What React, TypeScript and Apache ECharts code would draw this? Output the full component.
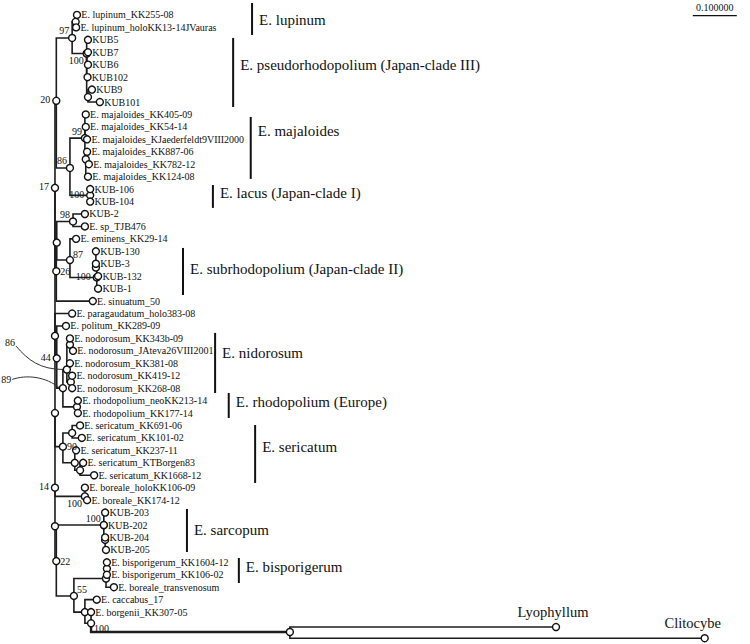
import React, { useEffect, useRef } from 'react';
import * as echarts from 'echarts';

// ---------- DATA ----------
const leafNames = [
  'E. lupinum_KK255-08', 'E. lupinum_holoKK13-14JVauras', 'KUB5', 'KUB7', 'KUB6', 'KUB102', 'KUB9', 'KUB101',
  'E. majaloides_KK405-09', 'E. majaloides_KK54-14', 'E. majaloides_KJaederfeldt9VIII2000', 'E. majaloides_KK887-06',
  'E. majaloides_KK782-12', 'E. majaloides_KK124-08', 'KUB-106', 'KUB-104', 'KUB-2', 'E. sp_TJB476',
  'E. eminens_KK29-14', 'KUB-130', 'KUB-3', 'KUB-132', 'KUB-1', 'E. sinuatum_50', 'E. paragaudatum_holo383-08',
  'E. politum_KK289-09', 'E. nodorosum_KK343b-09', 'E. nodorosum_JAteva26VIII2001', 'E. nodorosum_KK381-08',
  'E. nodorosum_KK419-12', 'E. nodorosum_KK268-08', 'E. rhodopolium_neoKK213-14', 'E. rhodopolium_KK177-14',
  'E. sericatum_KK691-06', 'E. sericatum_KK101-02', 'E. sericatum_KK237-11', 'E. sericatum_KTBorgen83',
  'E. sericatum_KK1668-12', 'E. boreale_holoKK106-09', 'E. boreale_KK174-12', 'KUB-203', 'KUB-202', 'KUB-204',
  'KUB-205', 'E. bisporigerum_KK1604-12', 'E. bisporigerum_KK106-02', 'E. boreale_transvenosum', 'E. caccabus_17',
  'E. borgenii_KK307-05', 'Lyophyllum', 'Clitocybe',
];
const leafDist = [
  0.050, 0.048, 0.075, 0.075, 0.075, 0.074, 0.084, 0.102, 0.070, 0.070, 0.073, 0.073, 0.077, 0.075, 0.080, 0.080,
  0.068, 0.068, 0.048, 0.093, 0.093, 0.098, 0.098, 0.086, 0.039, 0.025, 0.034, 0.041, 0.034, 0.039, 0.039, 0.052,
  0.052, 0.057, 0.061, 0.048, 0.064, 0.089, 0.068, 0.073, 0.114, 0.111, 0.114, 0.116, 0.118, 0.118, 0.134, 0.095,
  0.082, 1.139, 1.477,
];
const leafRow = [
  0, 1, 2, 3, 4, 5, 6, 7, 8, 9, 10, 11, 12, 13, 14, 15, 16, 17, 18, 19, 20, 21, 22, 23, 24, 25, 26, 27, 28, 29, 30,
  31, 32, 33, 34, 35, 36, 37, 38, 39, 40, 41, 42, 43, 44, 45, 46, 47, 48, 49.2, 50.1,
];
const leafParent = [
  'nLup', 'nLup', 'nK100', 'nK100', 'nK100', 'nK100', 'nK2', 'nK2', 'N99', 'N99', 'N99', 'nM2', 'nM2', 'nM2',
  'nLac', 'nLac', 'N98', 'N98', 'N87', 'nS2', 'nS2', 'nS100', 'nS100', 'N26', 'B336', 'N44', 'nN1', 'nN1', 'N86b',
  'nN3', 'nN3', 'nRh', 'nRh', 'nSe1', 'nSe1', 'nSe2', 'nSe3', 'nSe3', 'nBor', 'nBor', 'nSar', 'nSar', 'nSa2', 'nSa2',
  'nBi2', 'nBi2', 'nBi', 'nCa', 'N100o', 'nOut', 'nOut',
];

const nodeIds = [
  'R17', 'N20', 'N97', 'nLup', 'nK100', 'nK2', 'N86a', 'N99', 'nM2', 'nLac', 'N26', 'Na', 'N98', 'N87', 'nS100',
  'nS2', 'B336', 'N44', 'N89', 'N86b', 'nN1', 'nN3', 'nRh', 'B413', 'N90', 'nSe1', 'nSe2', 'nSe3', 'N14', 'nBor',
  'N22', 'B527', 'nSar', 'nSa2', 'N55', 'nBi', 'nBi2', 'nCa', 'N100o', 'nOut',
];
const nodeParent = [
  '', 'R17', 'N20', 'N97', 'N97', 'nK100', 'N20', 'N86a', 'N99', 'N86a', 'R17', 'N26', 'Na', 'Na', 'N87',
  'nS100', 'R17', 'B336', 'N44', 'N89', 'N86b', 'N86b', 'N89', 'B336', 'B413', 'N90', 'N90', 'nSe2', 'B413', 'N14',
  'N14', 'N22', 'B527', 'nSar', 'N22', 'N55', 'nBi', 'N55', 'nCa', 'N100o',
];
const nodeDist = [
  0.000, 0.003, 0.039, 0.047, 0.072, 0.075, 0.034, 0.068, 0.070, 0.080, 0.003, 0.004, 0.041, 0.034, 0.095,
  0.093, 0.000, 0.004, 0.018, 0.027, 0.034, 0.036, 0.050, 0.000, 0.018, 0.039, 0.045, 0.057, 0.000, 0.068,
  0.003, 0.000, 0.111, 0.114, 0.043, 0.116, 0.118, 0.068, 0.082, 0.534,
];
const nodeRow = [
  13.9, 6.9, 1.85, 0.55, 3.1, 6.6, 12.3, 9.9, 11.6, 14.5, 20.6, 18.3, 16.6, 19.7, 21.1,
  20.3, 25.8, 27.6, 30.0, 28.5, 26.5, 29.5, 31.5, 32.0, 34.7, 33.6, 36.0, 36.6, 38.0, 38.7,
  43.9, 41.1, 41.0, 42.2, 46.7, 45.3, 44.5, 48.0, 48.9, 49.6,
];
const nodeSupport = [
  '17', '20', '97', '', '100', '', '86', '99', '', '100', '26', '', '98', '87', '100',
  '', '', '44', '89', '86', '', '', '', '', '90', '', '', '', '14', '100',
  '22', '', '100', '', '55', '', '', '', '100', '',
];

const cladeNames = [
  'E. lupinum', 'E. pseudorhodopolium (Japan-clade III)', 'E. majaloides', 'E. lacus (Japan-clade I)',
  'E. subrhodopolium (Japan-clade II)', 'E. nidorosum', 'E. rhodopolium (Europe)', 'E. sericatum', 'E. sarcopum',
  'E. bisporigerum',
];
const cladeBarX = [0.448, 0.405, 0.445, 0.359, 0.291, 0.364, 0.395, 0.455, 0.300, 0.418];
const cladeTop = [-0.96, 1.85, 8.2, 13.67, 18.73, 25.56, 30.39, 32.96, 39.71, 43.65];
const cladeBottom = [1.61, 7.4, 13.18, 15.51, 22.51, 30.39, 32.4, 37.62, 43.17, 45.66];
const cladeTextRow = [0.4, 4.02, 9.32, 14.31, 20.42, 27.17, 31.11, 34.73, 41.4, 44.37];

// support values whose labels sit away from the node, with a leader curve
const leaderNodes = ['N86b', 'N89'];
const leaderX = [-0.102, -0.111];
const leaderRow = [26.3, 29.3];

const scaleBarStart = 1.45;
const scaleBarLength = 0.1;
const scaleBarRow = 0.05;
const scaleBarLabel = '0.100000';

// ---------- STYLE ----------
const FONT = 'Liberation Serif';
const INK = '#111';
const supportPlacement: Record<string, string> = {
  R17: 'l', N20: 'l', N97: 'tl', nK100: 'bl', N86a: 'tl', N99: 'tl', nLac: 'l', N26: 'r', N98: 'tl', N87: 'tr',
  nS100: 'l', N44: 'l', N90: 'r', N14: 'l', nBor: 'bl', N22: 'r', nSar: 'tl', N55: 'tr', N100o: 'br',
};

function positions() {
  const pos: Record<string, [number, number]> = {};
  leafNames.forEach((_, i) => (pos['L' + i] = [leafDist[i], leafRow[i]]));
  nodeIds.forEach((id, i) => (pos[id] = [nodeDist[i], nodeRow[i]]));
  return pos;
}

const txt = (text: string, x: number, y: number, size: number, align: string, valign: string) => ({
  type: 'text',
  x,
  y,
  style: {
    text, fontSize: size, fontFamily: FONT, fill: INK,
    align, verticalAlign: valign, textAlign: align, textVerticalAlign: valign,
  },
});

function buildOption() {
  const pos = positions();
  const edges: number[][] = [];
  leafNames.forEach((_, i) => {
    const p = pos[leafParent[i]];
    edges.push([p[0], p[1], leafDist[i], leafRow[i], 1.6]);
  });
  nodeIds.forEach((id, i) => {
    if (!nodeParent[i]) return;
    const p = pos[nodeParent[i]];
    edges.push([p[0], p[1], nodeDist[i], nodeRow[i], id === 'nOut' ? 2.4 : 1.6]);
  });

  const circleData: number[][] = [];
  nodeIds.forEach((_, i) => circleData.push([nodeDist[i], nodeRow[i]]));
  leafNames.forEach((_, i) => circleData.push([leafDist[i], leafRow[i]]));

  const leafLabelData = leafNames.map((_, i) => [leafDist[i], leafRow[i], i]);

  const supportData: number[][] = [];
  nodeIds.forEach((id, i) => {
    if (nodeSupport[i] && supportPlacement[id]) supportData.push([nodeDist[i], nodeRow[i], i]);
  });

  const leaderData = leaderNodes.map((id, k) => [leaderX[k], leaderRow[k], pos[id][0], pos[id][1], nodeIds.indexOf(id), k]);

  const cladeData = cladeNames.map((_, i) => [cladeBarX[i], cladeTop[i], cladeBottom[i], cladeTextRow[i], i]);

  return {
    animation: false,
    backgroundColor: '#fff',
    textStyle: { fontFamily: FONT },
    grid: { left: 0, top: 2.5, width: 750, height: 640.7 },
    xAxis: { type: 'value', min: -0.125, max: 1.58, show: false },
    yAxis: { type: 'value', min: -1, max: 50.5, inverse: true, show: false },
    series: [
      {
        type: 'custom',
        z: 2,
        data: edges,
        renderItem: (_p: any, api: any) => {
          const a = api.coord([api.value(0), api.value(1)]);
          const c = api.coord([api.value(2), api.value(3)]);
          return {
            type: 'polyline',
            shape: { points: [a, [a[0], c[1]], c] },
            style: { stroke: '#1c1c1c', lineWidth: api.value(4), fill: null },
          };
        },
      },
      {
        type: 'custom',
        z: 2,
        data: cladeData,
        renderItem: (_p: any, api: any) => {
          const t = api.coord([api.value(0), api.value(1)]);
          const b = api.coord([api.value(0), api.value(2)]);
          const m = api.coord([api.value(0), api.value(3)]);
          return {
            type: 'group',
            children: [
              { type: 'line', shape: { x1: t[0], y1: t[1], x2: b[0], y2: b[1] }, style: { stroke: INK, lineWidth: 2 } },
              txt(cladeNames[api.value(4)], t[0] + 7, m[1], 15, 'left', 'middle'),
            ],
          };
        },
      },
      {
        type: 'custom',
        z: 2,
        data: [[scaleBarStart, scaleBarStart + scaleBarLength, scaleBarRow]],
        renderItem: (_p: any, api: any) => {
          const a = api.coord([api.value(0), api.value(2)]);
          const b = api.coord([api.value(1), api.value(2)]);
          return {
            type: 'group',
            children: [
              { type: 'line', shape: { x1: a[0], y1: a[1], x2: b[0], y2: b[1] }, style: { stroke: INK, lineWidth: 1.2 } },
              txt(scaleBarLabel, (a[0] + b[0]) / 2, a[1] - 3, 10, 'center', 'bottom'),
            ],
          };
        },
      },
      {
        type: 'custom',
        z: 2,
        data: leaderData,
        renderItem: (_p: any, api: any) => {
          const s = api.coord([api.value(0), api.value(1)]);
          const e = api.coord([api.value(2), api.value(3)]);
          const k = api.value(5);
          const sx = s[0] + 6, sy = s[1] + (k === 0 ? 4 : 0);
          const ex = e[0] - 3, ey = e[1];
          const dx = ex - sx, dy = ey - sy;
          const shape = k === 0
            ? { x1: sx, y1: sy, cpx1: sx + 0.25 * dx, cpy1: sy + 0.6 * dy, cpx2: sx + 0.5 * dx, cpy2: ey, x2: ex, y2: ey }
            : { x1: sx, y1: sy, cpx1: sx + 0.3 * dx, cpy1: sy - 5, cpx2: sx + 0.7 * dx, cpy2: sy - 3, x2: ex, y2: ey };
          return {
            type: 'group',
            children: [
              { type: 'bezierCurve', shape, style: { stroke: '#333', lineWidth: 1, fill: null } },
              txt(nodeSupport[api.value(4)], s[0], s[1], 10, 'center', 'middle'),
            ],
          };
        },
      },
      {
        type: 'custom',
        z: 4,
        data: supportData,
        renderItem: (_p: any, api: any) => {
          const c = api.coord([api.value(0), api.value(1)]);
          const i = api.value(2);
          const pl = supportPlacement[nodeIds[i]];
          const t = nodeSupport[i];
          if (pl === 'l') return txt(t, c[0] - 6, c[1] - 1, 10, 'right', 'middle');
          if (pl === 'tl') return txt(t, c[0] - 3, c[1] - 2, 10, 'right', 'bottom');
          if (pl === 'bl') return txt(t, c[0] - 3, c[1] + 2, 10, 'right', 'top');
          if (pl === 'r') return txt(t, c[0] + 4, c[1], 10, 'left', 'middle');
          if (pl === 'tr') return txt(t, c[0] + 3, c[1] - 1, 10, 'left', 'bottom');
          return txt(t, c[0] + 3, c[1], 10, 'left', 'top');
        },
      },
      {
        type: 'custom',
        z: 4,
        data: leafLabelData,
        renderItem: (_p: any, api: any) => {
          const c = api.coord([api.value(0), api.value(1)]);
          const i = api.value(2);
          const n = leafNames[i];
          if (n === 'Lyophyllum') return txt(n, c[0] - 3, c[1] - 8, 14.5, 'center', 'bottom');
          if (n === 'Clitocybe') return txt(n, c[0] - 12, c[1] - 8, 14.5, 'center', 'bottom');
          return txt(n, c[0] + 4.3, c[1], 10, 'left', 'middle');
        },
      },
      {
        type: 'scatter',
        z: 3,
        symbol: 'circle',
        symbolSize: 7,
        itemStyle: { color: '#fff', borderColor: INK, borderWidth: 1.4, opacity: 1 },
        label: { show: false },
        emphasis: { disabled: true },
        data: circleData,
      },
    ],
  };
}

export default function App() {
  const ref = useRef<HTMLDivElement>(null);
  useEffect(() => {
    if (!ref.current) return;
    const chart = echarts.init(ref.current, undefined, { renderer: 'svg' });
    chart.setOption(buildOption() as any);
    return () => chart.dispose();
  }, []);
  return (
    <div
      ref={ref}
      style={{ position: 'fixed', left: 0, top: 0, width: 750, height: 644, background: '#fff' }}
    />
  );
}
